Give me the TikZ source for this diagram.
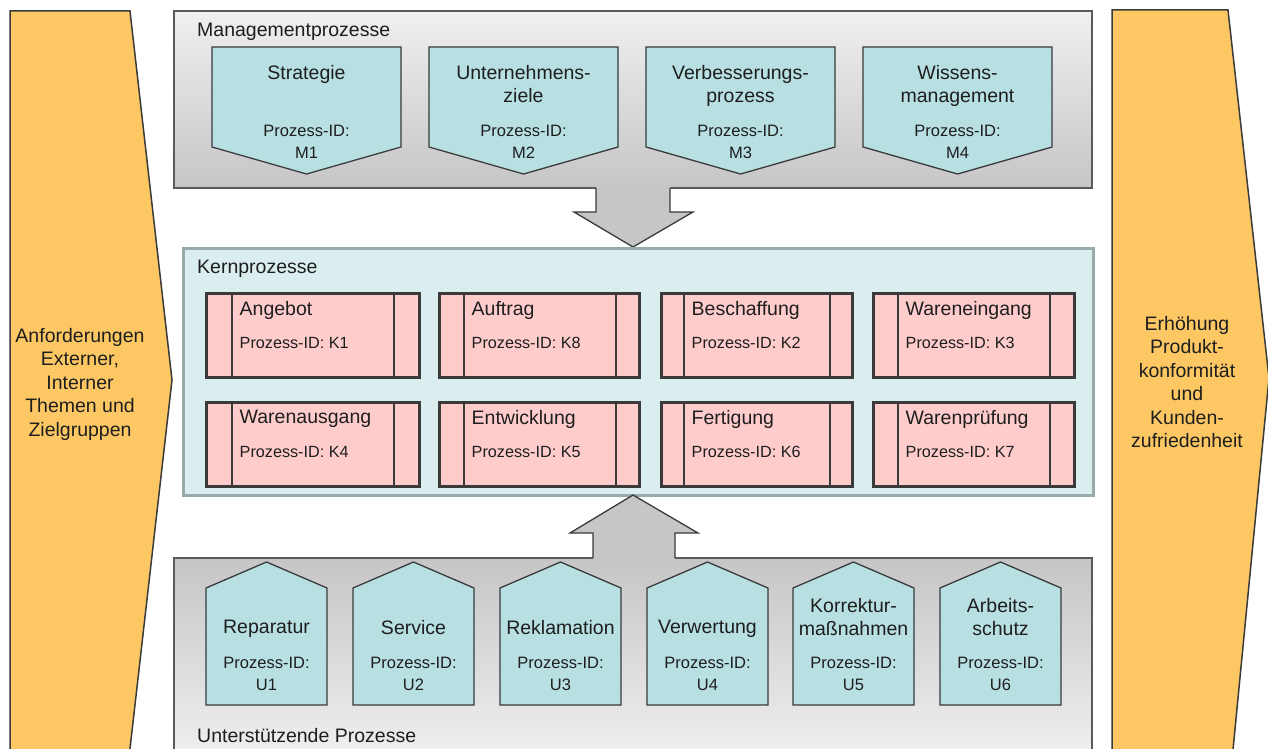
\documentclass[tikz,border=0pt]{standalone}
\usepackage{fontspec}
\setmainfont{Liberation Sans}
\definecolor{orangefill}{HTML}{FDC864}
\definecolor{tealfill}{HTML}{B8E0E3}
\definecolor{kfill}{HTML}{FFCCCC}
\definecolor{kernbg}{HTML}{DAEEF0}
\definecolor{kernframe}{HTML}{98AAAA}
\definecolor{linegray}{HTML}{3A3A3A}
\definecolor{boxline}{HTML}{5A5A5A}
\definecolor{txt}{HTML}{1E1E1E}
\definecolor{arrowgray}{HTML}{C6C6C6}
\tikzset{
  shapeline/.style={draw=linegray, line width=1.3pt, line join=miter},
  chevron/.style={draw=linegray, line width=1.5pt, fill=orangefill},
  ttl/.style={font=\fontsize{19.5}{23.5}\selectfont, text=txt, inner sep=0pt, align=center},
  idt/.style={font=\fontsize{16.5}{22}\selectfont, text=txt, inner sep=0pt, align=center},
  grouplabel/.style={font=\fontsize{19.5}{23.5}\selectfont, text=txt, inner sep=0pt, anchor=north west},
  kbox/.style={draw=linegray, line width=2.5pt, fill=kfill, inner sep=0pt,
    anchor=north west, minimum height=84pt},
  kline/.style={draw=linegray, line width=2pt},
  ktxt/.style={font=\fontsize{19.5}{23.5}\selectfont, text=txt, inner sep=0pt, anchor=north west},
  kidt/.style={font=\fontsize{16.2}{20}\selectfont, text=txt, inner sep=0pt, anchor=north west},
}
% management process: pentagon pointing down
\newcommand\mproc[4]{%
  \draw[shapeline, fill=tealfill] (#2,47) -- ++(189,0) -- ++(0,100) -- ++(-94.5,27) -- ++(-94.5,-27) -- cycle;
  \node[ttl, anchor=north] (#1) at (#2+94.5,65) {#3};
  \node[idt, anchor=north] (#1id) at (#2+94.5,125) {Prozess-ID:\\#4};
}
% supporting process: house shape pointing up
\newcommand\uproc[5]{%
  \draw[shapeline, fill=tealfill] (#2,705) -- (#2,588) -- (#2+60.5,562) -- (#2+121,588) -- (#2+121,705) -- cycle;
  \node[ttl, anchor=north] (#1) at (#2+60.5,#4) {#3};
  \node[idt, anchor=north] (#1id) at (#2+60.5,657) {Prozess-ID:\\#5};
}
% core process: box with side strips
\newcommand\kproc[8]{%
  \node[kbox, minimum width=#4pt] (#1) at (#2,#3) {};
  \draw[kline] ([xshift=#5pt]#1.north west) -- ([xshift=#5pt]#1.south west);
  \draw[kline] ([xshift=-#6pt]#1.north east) -- ([xshift=-#6pt]#1.south east);
  \node[ktxt] (#1t) at (#2+#5+7.5,#3+9) {#7};
  \node[kidt] (#1i) at (#2+#5+7.5,#3+45) {Prozess-ID: #8};
}
\begin{document}
\begin{tikzpicture}[x=1pt, y=-1pt]
\useasboundingbox (0,0) rectangle (1268,749);
\clip (0,0) rectangle (1268,749);
\fill[white] (0,0) rectangle (1268,749);

% input and output chevrons
\draw[chevron] (10,11) -- (130,11) -- (172,380) -- (128.7,760) -- (10,760) -- cycle;
\node[ttl, anchor=north] (input) at (80,328)
  {Anforderungen\\Externer,\\Interner\\Themen und\\Zielgruppen};
\draw[chevron] (1112,10) -- (1228,10) -- (1269,378) -- (1232,760) -- (1112,760) -- cycle;
\node[ttl, anchor=north] (output) at (1187,316)
  {Erhöhung\\Produkt-\\konformität\\und\\Kunden-\\zufriedenheit};

% management processes
\shade[top color=gray!12, bottom color=gray!45, draw=boxline, line width=1.3pt]
  (174,11) rectangle (1092,188);
\node[grouplabel] (mgmt) at (197,23) {Managementprozesse};
\mproc{m1}{212}{Strategie}{M1}
\mproc{m2}{429}{Unternehmens-\\ziele}{M2}
\mproc{m3}{646}{Verbesserungs-\\prozess}{M3}
\mproc{m4}{863}{Wissens-\\management}{M4}

% arrow from management to core processes
\fill[arrowgray] (596,186.5) -- (596,212) -- (574,212) -- (633,247) -- (693,212) -- (670,212) -- (670,186.5) -- cycle;
\draw[shapeline] (596,188) -- (596,212) -- (574,212) -- (633,247) -- (693,212) -- (670,212) -- (670,188);

% core processes
\draw[fill=kernbg, draw=kernframe, line width=3pt] (183,248) rectangle (1093,495);
\node[grouplabel] (kern) at (197,260) {Kernprozesse};
\kproc{k1}{205}{292}{213}{27}{27}{Angebot}{K1}
\kproc{k8}{438}{292}{200}{26}{25}{Auftrag}{K8}
\kproc{k2}{660}{292}{191}{24}{24}{Beschaffung}{K2}
\kproc{k3}{872}{292}{201}{26}{26}{Wareneingang}{K3}
\kproc{k4}{205}{401}{213}{27}{27}{Warenausgang}{K4}
\kproc{k5}{438}{401}{200}{26}{25}{Entwicklung}{K5}
\kproc{k6}{660}{401}{191}{24}{24}{Fertigung}{K6}
\kproc{k7}{872}{401}{201}{26}{26}{Warenprüfung}{K7}

% supporting processes
\shade[top color=gray!45, bottom color=gray!10, draw=boxline, line width=1.3pt]
  (174,558) rectangle (1092,770);
\fill[arrowgray] (593,559.5) -- (593,533) -- (570,533) -- (633,495) -- (698,533) -- (675,533) -- (675,559.5) -- cycle;
\draw[shapeline] (593,558) -- (593,533) -- (570,533) -- (633,495) -- (698,533) -- (675,533) -- (675,558);
\uproc{u1}{206}{Reparatur}{620}{U1}
\uproc{u2}{353}{Service}{620}{U2}
\uproc{u3}{500}{Reklamation}{620}{U3}
\uproc{u4}{647}{Verwertung}{620}{U4}
\uproc{u5}{793}{Korrektur-\\maßnahmen}{598}{U5}
\uproc{u6}{940}{Arbeits-\\schutz}{598}{U6}
\node[grouplabel] (support) at (197,728) {Unterstützende Prozesse};
\end{tikzpicture}
\end{document}
